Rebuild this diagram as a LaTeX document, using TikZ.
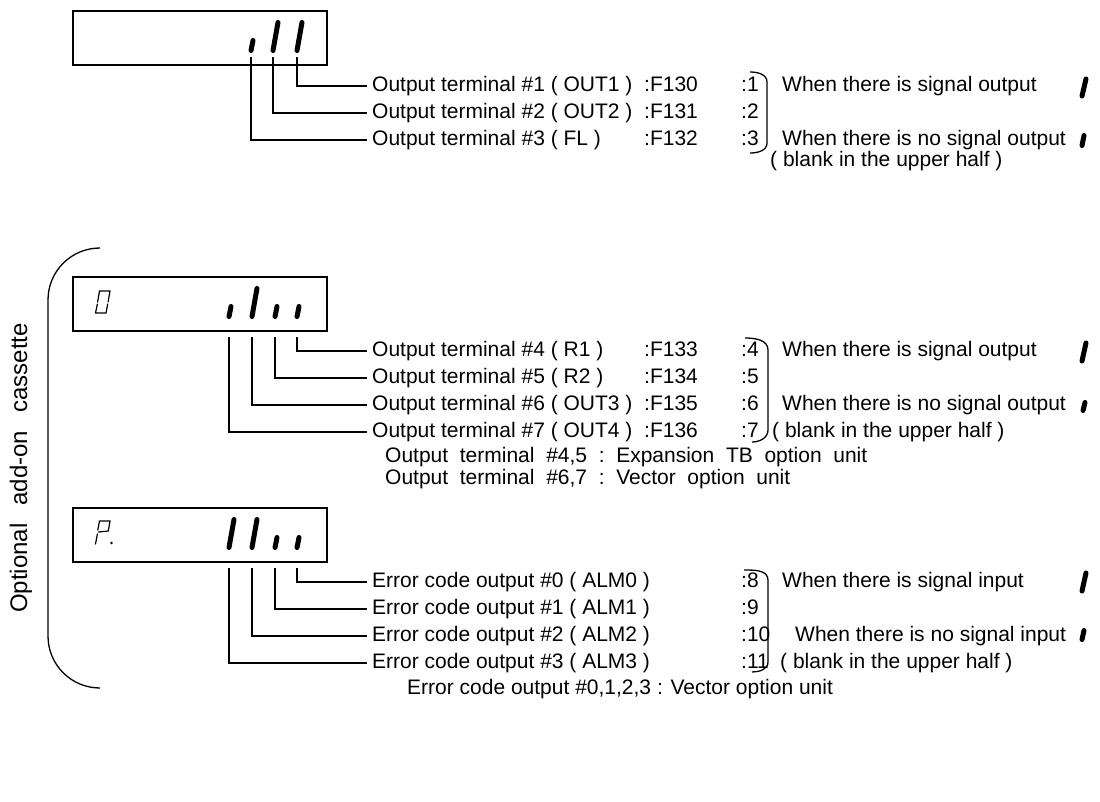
\documentclass[tikz,border=0pt]{standalone}
\usepackage{fontspec}
\setmainfont{Liberation Sans}

\tikzset{
  disp/.style={draw, line width=1.6pt, minimum width=254pt, minimum height=54pt, anchor=north west, inner sep=0pt},
  seg/.style={line width=5pt, line cap=round},
  thinseg/.style={line width=1.2pt, line cap=round},
  lead/.style={line width=1.3pt},
  lbl/.style={anchor=west, inner xsep=5pt, inner ysep=0pt, text height=15pt, text depth=4pt, font=\fontsize{21}{24}\selectfont},
  brk/.style={line width=1.3pt},
}
\newcommand{\segfull}[2]{\draw[seg] (#1,#2) -- ++(5,-28);}
\newcommand{\seghalf}[2]{\draw[seg] (#1,#2) -- ++(2,-10);}

\begin{document}
\begin{tikzpicture}[x=1pt,y=-1pt]
\useasboundingbox (0,0) rectangle (1100,802);

% ===== Hop hien thi 1 =====
\node[disp] (box1) at (72,10) {};
\seghalf{251}{50.5}
\segfull{273}{50.5}
\segfull{297}{50.5}

\foreach \sx/\ry/\txt/\fc/\nm [count=\i] in {297/86/{Output terminal \#1 ( OUT1 )}/F130/1,
    273/113/{Output terminal \#2 ( OUT2 )}/F131/2,
    251/140/{Output terminal \#3 ( FL )}/F132/3} {
    \coordinate (a\i) at (\sx,57);
    \node[lbl] (ta\i) at (367,\ry) {\txt};
    \node[lbl, inner xsep=0pt] (fa\i) at (644,\ry) {:\fc};
    \node[lbl, inner xsep=0pt] (na\i) at (741,\ry) {:\nm};
    \draw[lead] (a\i) |- (ta\i.west);
}

\draw[brk] (750,72) to[out=0,in=90] (767,82) -- (767,143) to[out=-90,in=0] (750,153);
\node[lbl] (on1) at (777,86) {When there is signal output};
\node[lbl] (off1) at (777,140) {When there is no signal output};
\node[lbl] (bl1) at (765,161) {( blank in the upper half )};
\draw[seg] (1082,96) -- (1086,79);
\draw[seg] (1082,145.5) -- (1084,135.5);

% ===== Ngoac lon + chu xoay =====
\draw[brk] (100,248) to[out=180,in=90] (48,300) -- (48,636) to[out=-90,in=180] (100,688);
\node[rotate=90, font=\fontsize{24}{28}\selectfont] (opt) at (21,468) {Optional\hspace{18pt}add-on\hspace{18pt}cassette};

% ===== Hop hien thi 2 =====
\node[disp] (box2) at (72,276) {};
\draw[thinseg] (97.6,302) -- (99.5,291) -- (110,291) -- (108.1,302);
\draw[thinseg] (107.7,304) -- (106,313) -- (95.5,313) -- (97.4,304);
\seghalf{229}{316.5}
\segfull{252}{316.5}
\seghalf{275}{316.5}
\seghalf{297}{316.5}

\foreach \sx/\ry/\txt/\fc/\nm [count=\i] in {297/351/{Output terminal \#4 ( R1 )}/F133/4,
    275/378/{Output terminal \#5 ( R2 )}/F134/5,
    252/405/{Output terminal \#6 ( OUT3 )}/F135/6,
    229/432/{Output terminal \#7 ( OUT4 )}/F136/7} {
    \coordinate (b\i) at (\sx,337);
    \node[lbl] (tb\i) at (367,\ry) {\txt};
    \node[lbl, inner xsep=0pt] (fb\i) at (644,\ry) {:\fc};
    \node[lbl, inner xsep=0pt] (nb\i) at (741,\ry) {:\nm};
    \draw[lead] (b\i) |- (tb\i.west);
}

\draw[brk] (745,338) to[out=0,in=90] (768,350) -- (768,430) to[out=-90,in=0] (752,442);
\node[lbl] (on2) at (777,351) {When there is signal output};
\node[lbl] (off2) at (777,405) {When there is no signal output};
\node[lbl] (bl2) at (767,432) {( blank in the upper half )};
\draw[seg] (1082,361) -- (1086,343);
\draw[seg] (1083,410.5) -- (1085,402.5);

\node[lbl] (nt1) at (380,457) {Output\ \ terminal\ \ \#4,5\ \ :\ \ Expansion\ \ TB\ \ option\ \ unit};
\node[lbl] (nt2) at (380,479) {Output\ \ terminal\ \ \#6,7\ \ :\ \ Vector\ \ option\ \ unit};

% ===== Hop hien thi 3 =====
\node[disp] (box3) at (72,507) {};
\draw[thinseg] (97.4,534) -- (95.5,544);
\draw[thinseg] (97.8,530) -- (99.5,521) -- (110,521) -- (108.3,531) -- (98.5,532);
\fill (111.5,543) circle (1.4);
\segfull{229}{547.5}
\segfull{252}{547.5}
\seghalf{275}{547.5}
\seghalf{297}{547.5}

\foreach \sx/\ry/\txt/\nm [count=\i] in {297/582/{Error code output \#0 ( ALM0 )}/8,
    275/609/{Error code output \#1 ( ALM1 )}/9,
    252/636/{Error code output \#2 ( ALM2 )}/10,
    229/663/{Error code output \#3 ( ALM3 )}/11} {
    \coordinate (c\i) at (\sx,568);
    \node[lbl] (tc\i) at (367,\ry) {\txt};
    \node[lbl, inner xsep=0pt] (nc\i) at (741,\ry) {:\nm};
    \draw[lead] (c\i) |- (tc\i.west);
}

\draw[brk] (744,570) to[out=0,in=90] (768,580) -- (768,662) to[out=-90,in=0] (752,672);
\node[lbl] (on3) at (777,582) {When there is signal input};
\node[lbl] (off3) at (790,636) {When there is no signal input};
\node[lbl] (bl3) at (775,663) {( blank in the upper half )};
\draw[seg] (1082,591) -- (1086,573);
\draw[seg] (1082,639.5) -- (1084,630.5);

\node[lbl] (nt3) at (402,689) {Error code output \#0,1,2,3 : Vector option unit};

\end{tikzpicture}
\end{document}
